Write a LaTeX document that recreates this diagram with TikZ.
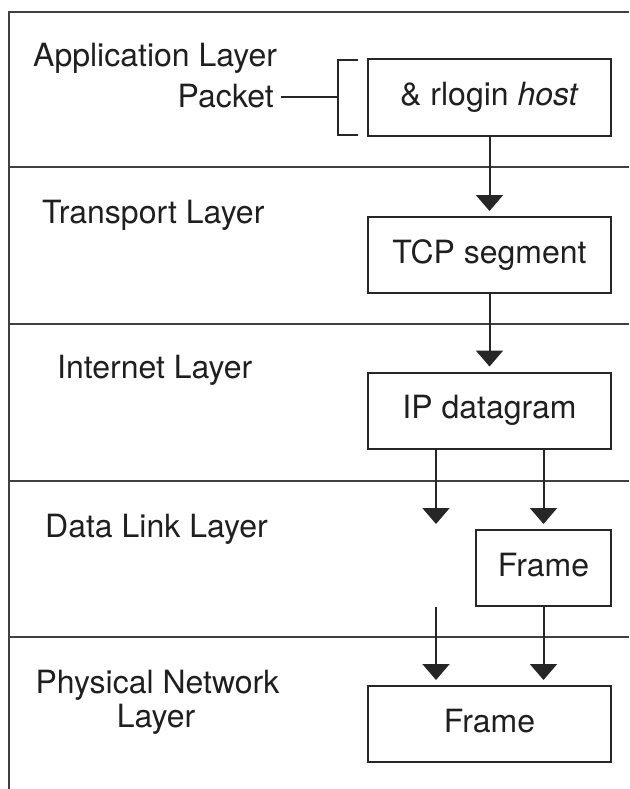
\documentclass[tikz,border=0pt]{standalone}
\usepackage{fontspec}
\setmainfont{TeX Gyre Heros}
\usetikzlibrary{arrows.meta}
\begin{document}
\begin{tikzpicture}[x=1pt,y=-1pt,
  every node/.style={font=\fontsize{32}{34}\selectfont, text=black!88},
  lbl/.style={inner sep=0pt, anchor=base west},
  pkt/.style={draw=black!85, line width=2pt, minimum width=243pt,
    minimum height=76pt, inner sep=0pt, text height=23pt, text depth=7pt},
  rule/.style={draw=black!75, line width=2.4pt},
  flow/.style={draw=black!85, line width=2pt,
    -{Triangle[width=27pt,length=16pt]}, shorten >=5pt}]
  \useasboundingbox (0,0) rectangle (629,789);

  % outer frame and layer separators
  \draw[rule] (9,789) -- (9,12) -- (629,12);
  \foreach \yy in {167,324,481,637}
    \draw[rule] (9,\yy) -- (629,\yy);

  % layer names
  \node[lbl] (lapp) at (33,67) {Application Layer};
  \node[lbl] (ltrn) at (42,223) {Transport Layer};
  \node[lbl] (lint) at (57,378) {Internet Layer};
  \node[lbl] (ldl)  at (45,537) {Data Link Layer};
  \node[inner sep=0pt, anchor=base] (lphy1) at (157.5,693) {Physical Network};
  \node[inner sep=0pt, anchor=base] (lphy2) at (156,727) {Layer};

  % data units
  \node[pkt] (app)  at (489.5,97.5) {\& rlogin \textit{host}};
  \node[pkt] (tcp)  at (489.5,255)  {TCP segment};
  \node[pkt] (ip)   at (489.5,410.5) {IP datagram};
  \node[pkt, minimum width=135pt] (dl) at (543.5,568) {Frame};
  \node[pkt] (phy)  at (489.5,724)  {Frame};

  % packet label with bracket
  \node[inner sep=0pt, anchor=base east] (pk) at (274,107) {Packet};
  \coordinate (bk) at (338,97.5);
  \draw[black!85, line width=2pt] (358,60) -- (338,60) -- (338,135) -- (358,135);
  \draw[black!85, line width=2pt, shorten <=7pt] (pk.east |- bk) -- (bk);

  % encapsulation flow
  \coordinate (lx) at (436,0);
  \draw[flow] (app) -- (tcp);
  \draw[flow] (tcp) -- (ip);
  \draw[flow] (ip.south -| lx) -- (lx |- dl.north);
  \draw[flow] (ip.south -| dl.north) -- (dl.north);
  \draw[flow] (lx |- dl.south) -- (lx |- phy.north);
  \draw[flow] (dl.south) -- (dl.south |- phy.north);
\end{tikzpicture}
\end{document}
